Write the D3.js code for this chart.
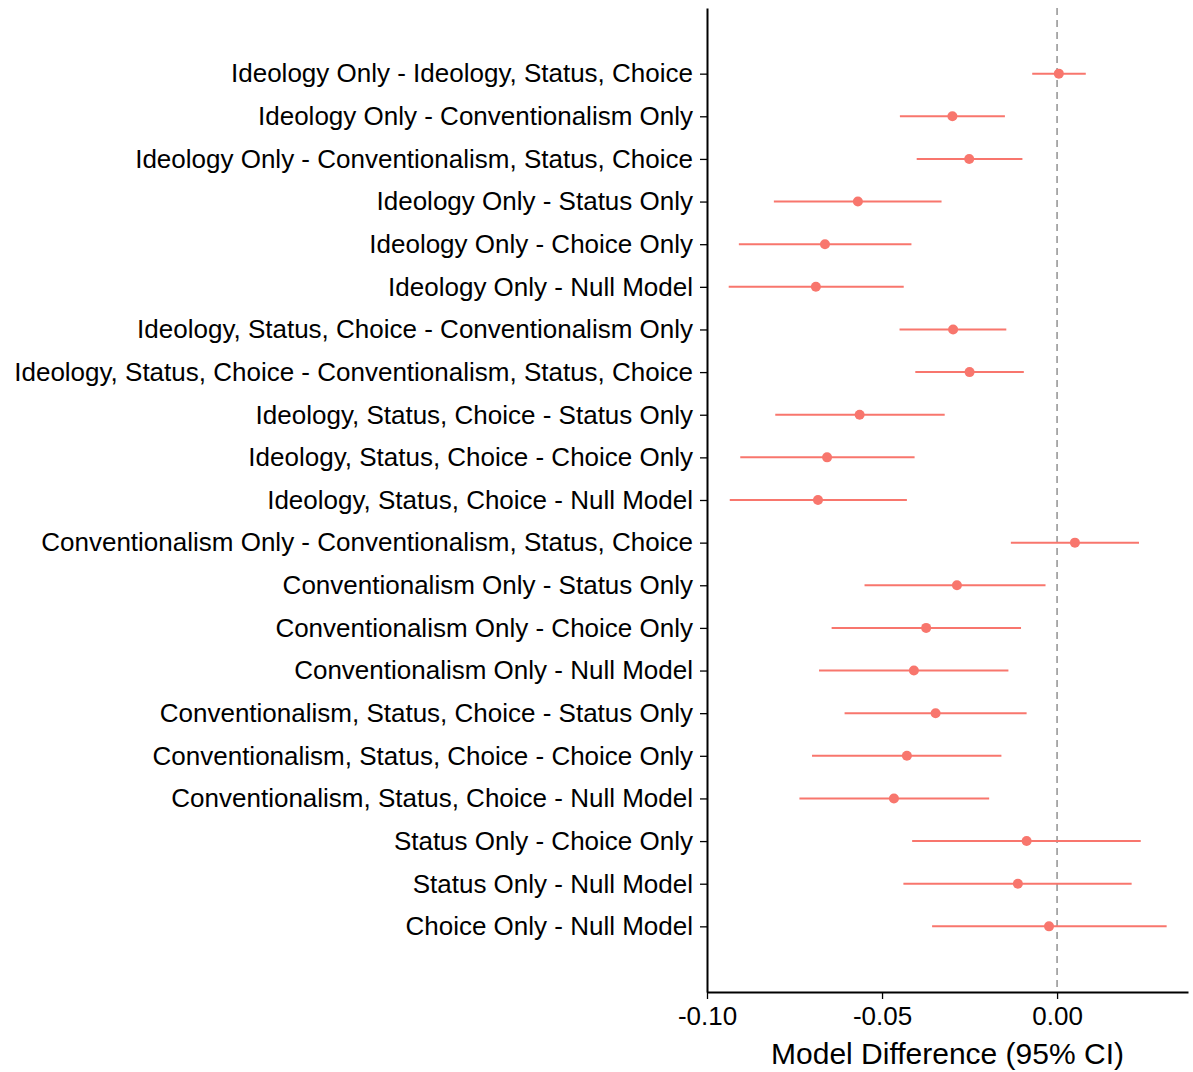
<!DOCTYPE html>
<html lang="en">
<head>
<meta charset="UTF-8">
<script src="https://d3js.org/d3.v7.min.js"></script>
<style>
  body { margin: 0; background: #fff; }
  #plot { position: absolute; width: 100%; height: 100%; }
</style>
</head>
<body>
<div id="plot"></div>
<script>
// model comparisons, top to bottom
const comparisons = [
  "Ideology Only - Ideology, Status, Choice",
  "Ideology Only - Conventionalism Only",
  "Ideology Only - Conventionalism, Status, Choice",
  "Ideology Only - Status Only",
  "Ideology Only - Choice Only",
  "Ideology Only - Null Model",
  "Ideology, Status, Choice - Conventionalism Only",
  "Ideology, Status, Choice - Conventionalism, Status, Choice",
  "Ideology, Status, Choice - Status Only",
  "Ideology, Status, Choice - Choice Only",
  "Ideology, Status, Choice - Null Model",
  "Conventionalism Only - Conventionalism, Status, Choice",
  "Conventionalism Only - Status Only",
  "Conventionalism Only - Choice Only",
  "Conventionalism Only - Null Model",
  "Conventionalism, Status, Choice - Status Only",
  "Conventionalism, Status, Choice - Choice Only",
  "Conventionalism, Status, Choice - Null Model",
  "Status Only - Choice Only",
  "Status Only - Null Model",
  "Choice Only - Null Model"
];
const estimate = [0.0005, -0.0299, -0.0251, -0.0569, -0.0663, -0.0689, -0.0297, -0.0250, -0.0564, -0.0657, -0.0683,
                  0.0051, -0.0286, -0.0374, -0.0409, -0.0347, -0.0429, -0.0466, -0.0087, -0.0112, -0.0023];
const ciLow = [-0.0071, -0.0449, -0.0401, -0.0809, -0.0909, -0.0938, -0.0450, -0.0405, -0.0805, -0.0905, -0.0935,
               -0.0132, -0.0550, -0.0644, -0.0680, -0.0607, -0.0700, -0.0736, -0.0414, -0.0439, -0.0357];
const ciHigh = [0.0082, -0.0149, -0.0099, -0.0330, -0.0416, -0.0438, -0.0145, -0.0095, -0.0321, -0.0407, -0.0429,
                0.0234, -0.0033, -0.0103, -0.0139, -0.0087, -0.0159, -0.0194, 0.0239, 0.0213, 0.0313];
const xTicks = [-0.10, -0.05, 0.00];

const width = 1193, height = 1072;
const margin = {top: 8, right: 5, bottom: 80, left: 707};
const col = "#F8766D";
const font = "'Liberation Sans', Arial, sans-serif";

const rows = comparisons.map((c, i) => ({name: c, est: estimate[i], lo: ciLow[i], hi: ciHigh[i]}));

const svg = d3.select("#plot").append("svg")
    .attr("width", width).attr("height", height);

const x = d3.scaleLinear()
    .domain([-0.10, 0.0374])
    .range([margin.left, width - margin.right]);

const y = d3.scalePoint()
    .domain(comparisons)
    .range([margin.top, height - margin.bottom])
    .padding(1.54);

// zero reference line
svg.append("line")
    .attr("x1", x(0)).attr("x2", x(0))
    .attr("y1", margin.top).attr("y2", height - margin.bottom)
    .attr("stroke", "#999").attr("stroke-width", 1.6)
    .attr("stroke-dasharray", "7,5");

// error bars
svg.append("g").selectAll("line")
  .data(rows).join("line")
    .attr("x1", d => x(d.lo)).attr("x2", d => x(d.hi))
    .attr("y1", d => y(d.name)).attr("y2", d => y(d.name))
    .attr("stroke", col).attr("stroke-width", 2);

svg.append("g").selectAll("circle")
  .data(rows).join("circle")
    .attr("cx", d => x(d.est)).attr("cy", d => y(d.name))
    .attr("r", 5).attr("fill", col);

// axes
const yAxis = svg.append("g")
    .attr("transform", `translate(${margin.left},0)`)
    .call(d3.axisLeft(y).tickSize(7).tickPadding(7).tickSizeOuter(0));
yAxis.select(".domain").attr("stroke-width", 2);
yAxis.selectAll(".tick line").attr("stroke-width", 1.3);
yAxis.selectAll("text").attr("font-family", font).attr("font-size", 26).attr("fill", "#000");

const xAxis = svg.append("g")
    .attr("transform", `translate(0,${height - margin.bottom})`)
    .call(d3.axisBottom(x).tickValues(xTicks).tickFormat(d => d3.format(".2f")(d).replace("−", "-"))
      .tickSize(7).tickPadding(8).tickSizeOuter(0));
xAxis.select(".domain").attr("stroke-width", 2);
xAxis.selectAll(".tick line").attr("stroke-width", 1.3);
xAxis.selectAll("text").attr("font-family", font).attr("font-size", 26).attr("fill", "#000");

svg.append("text")
    .attr("x", (margin.left + width - margin.right) / 2)
    .attr("y", 1064)
    .attr("text-anchor", "middle")
    .attr("font-family", font).attr("font-size", 30)
    .text("Model Difference (95% CI)");
</script>
</body>
</html>
